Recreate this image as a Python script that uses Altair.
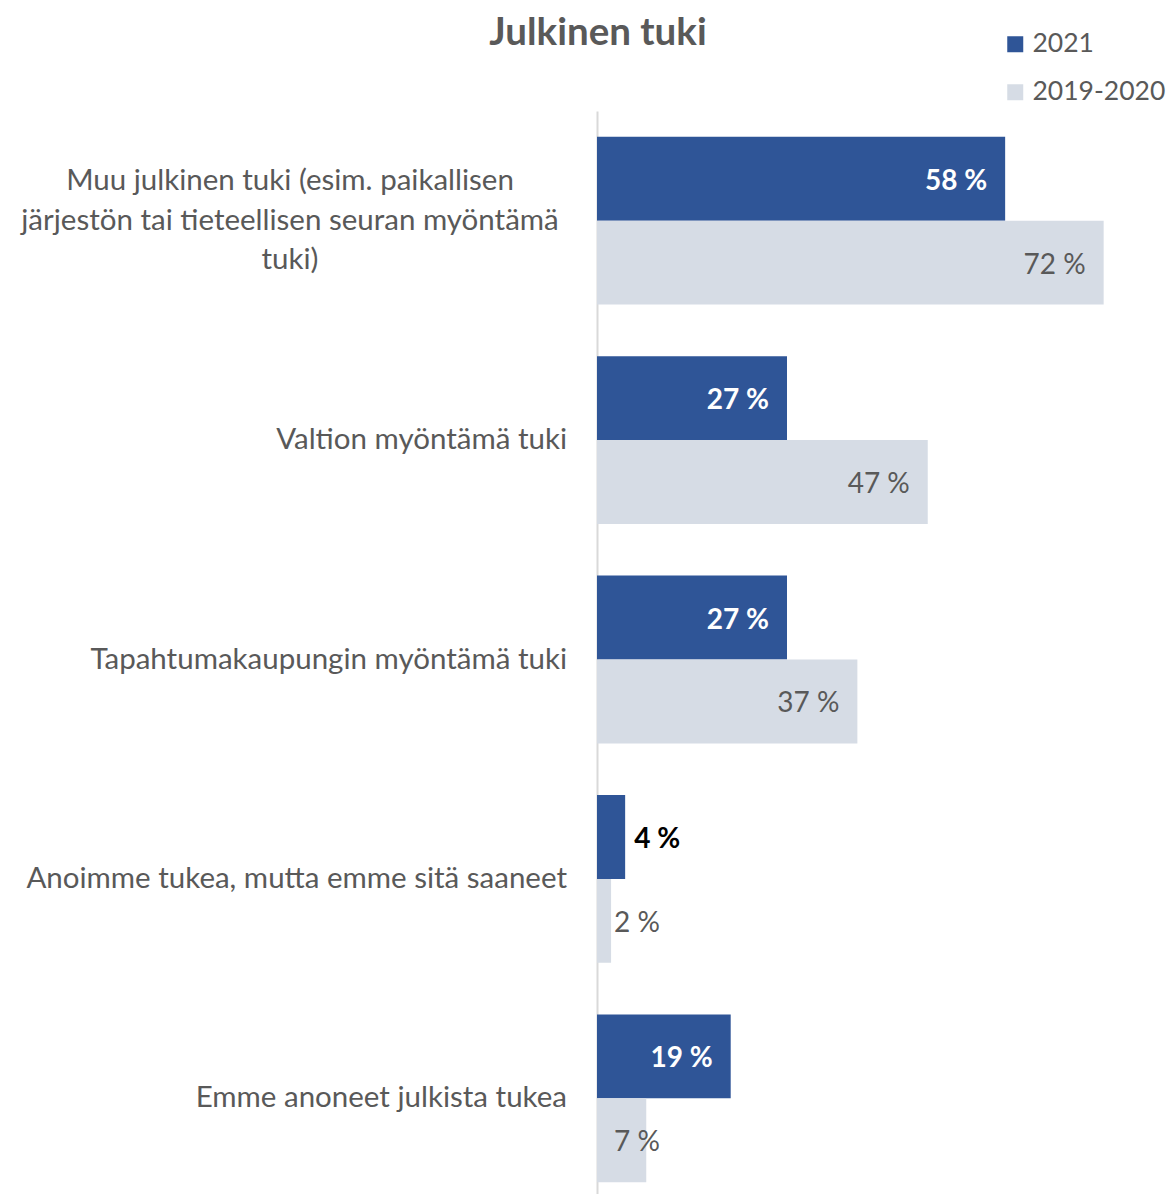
import altair as alt
import pandas as pd

categories = [
    "Muu julkinen tuki (esim. paikallisen|järjestön tai tieteellisen seuran myöntämä|tuki)",
    "Valtion myöntämä tuki",
    "Tapahtumakaupungin myöntämä tuki",
    "Anoimme tukea, mutta emme sitä saaneet",
    "Emme anoneet julkista tukea",
]
series = ["2021", "2019-2020"]
v2021 = [58, 27, 27, 4, 19]
v2019 = [72, 47, 37, 2, 7]
colors = ["#2F5597", "#D6DCE5"]

rows = []
for c, a, b in zip(categories, v2021, v2019):
    rows.append({"cat": c, "series": "2021", "value": a, "label": f"{a} %"})
    rows.append({"cat": c, "series": "2019-2020", "value": b, "label": f"{b} %"})
df = pd.DataFrame(rows)
cat_df = pd.DataFrame({"cat": categories, "first": [i == 0 for i in range(len(categories))]})

FONT = "Lato"
GREY = "#595959"

y_enc = alt.Y(
    "cat:N",
    sort=categories,
    scale=alt.Scale(paddingInner=0.235, paddingOuter=0.1175),
    axis=alt.Axis(
        title=None,
        ticks=False,
        labels=False,
        domainColor="#D9D9D9",
        domainWidth=2,
    ),
)
yoff = alt.YOffset("series:N", sort=series, scale=alt.Scale(paddingInner=0, paddingOuter=0))
x_enc = alt.X("value:Q", scale=alt.Scale(domain=[0, 81], nice=False), axis=None)

base = alt.Chart(df)

bars = base.mark_bar().encode(
    y=y_enc,
    yOffset=yoff,
    x=x_enc,
    color=alt.Color(
        "series:N",
        scale=alt.Scale(domain=series, range=colors),
        legend=alt.Legend(
            title=None,
            orient="none",
            legendX=405,
            legendY=-80,
            symbolType="square",
            symbolSize=256,
            symbolStrokeWidth=0,
            labelFont=FONT,
            labelFontSize=26.5,
            labelColor=GREY,
            labelOffset=4,
            rowPadding=21,
            padding=0,
        ),
    ),
)

t_in_2021 = base.transform_filter(
    "datum.series == '2021' && datum.value >= 10"
).mark_text(align="right", dx=-18, dy=3, font=FONT, fontSize=28, fontWeight="bold", color="white").encode(
    y=y_enc, yOffset=yoff, x=x_enc, text="label:N"
)
t_out_2021 = base.transform_filter(
    "datum.series == '2021' && datum.value < 10"
).mark_text(align="left", dx=9, dy=3, font=FONT, fontSize=28, fontWeight="bold", color="black").encode(
    y=y_enc, yOffset=yoff, x=x_enc, text="label:N"
)
t_in_2019 = base.transform_filter(
    "datum.series == '2019-2020' && datum.value >= 10"
).mark_text(align="right", dx=-18, dy=3, font=FONT, fontSize=28, color=GREY).encode(
    y=y_enc, yOffset=yoff, x=x_enc, text="label:N"
)
t_small_2019 = base.transform_filter(
    "datum.series == '2019-2020' && datum.value < 10"
).mark_text(align="left", dx=17, dy=3, font=FONT, fontSize=28, color=GREY).encode(
    y=y_enc, yOffset=yoff, x=alt.datum(0), text="label:N"
)

cat_base = alt.Chart(cat_df)
cat_right = cat_base.transform_filter("!datum.first").mark_text(
    align="right", baseline="middle", dx=-30, font=FONT, fontSize=29.5, color=GREY, lineBreak="|", lineHeight=39.5
).encode(y=y_enc, x=alt.value(0), text="cat:N")
cat_center = cat_base.transform_filter("datum.first").mark_text(
    align="center", baseline="middle", dx=-307, dy=-39.5, font=FONT, fontSize=29.5, color=GREY, lineBreak="|", lineHeight=39.5
).encode(y=y_enc, x=alt.value(0), text="cat:N")

chart = (
    alt.layer(bars, t_in_2021, t_out_2021, t_in_2019, t_small_2019, cat_right, cat_center)
    .properties(
        width=570,
        height=1097,
        autosize=alt.AutoSizeParams(type="none"),
        padding={"left": 589, "top": 103, "right": 1, "bottom": -14},
        title=alt.TitleParams(
            "Julkinen tuki",
            font=FONT,
            fontSize=38.5,
            fontWeight="bold",
            color=GREY,
            anchor="middle",
            frame="group",
            baseline="alphabetic",
            dx=-284,
            offset=-52,
        ),
    )
    .configure_view(stroke=None)
)

chart.save("out.html", embed_options={"renderer": "svg", "actions": False})
